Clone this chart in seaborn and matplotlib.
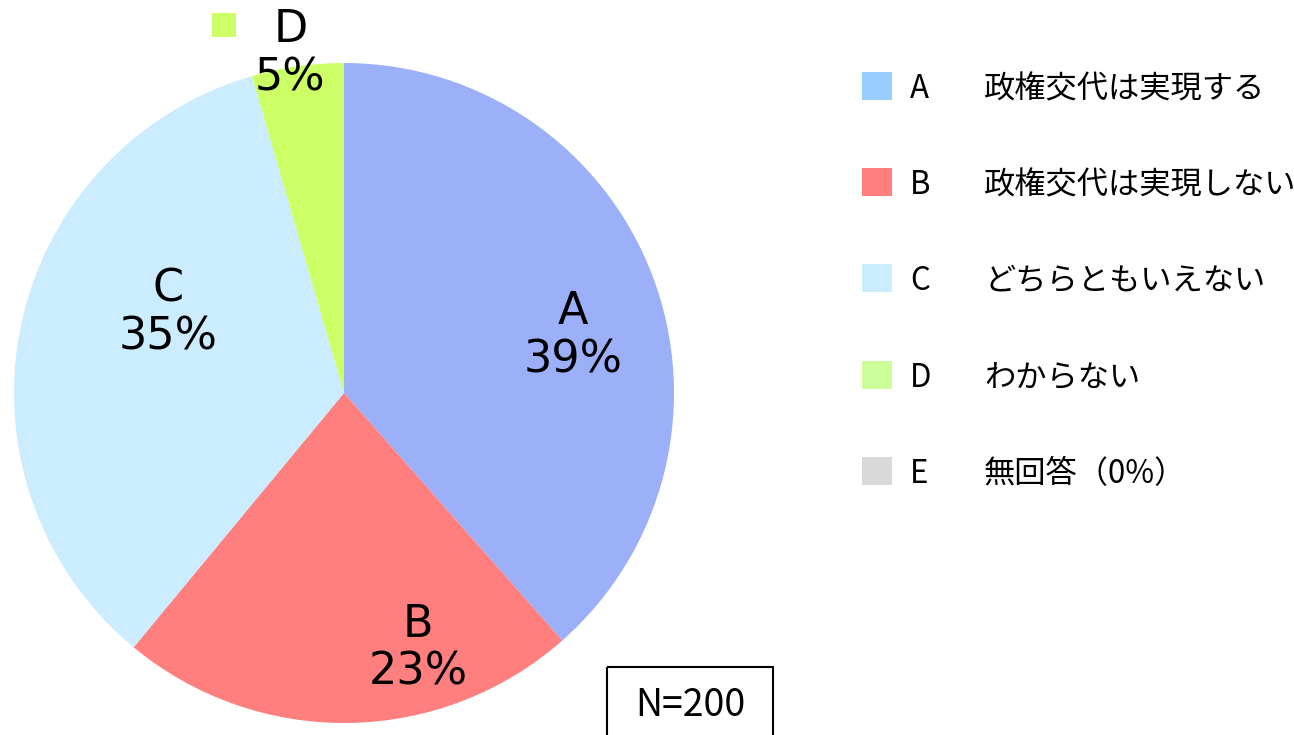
import matplotlib
matplotlib.use("Agg")
import numpy as np
import matplotlib.pyplot as plt
import seaborn as sns
from matplotlib.patches import Rectangle

# data
codes = ["A", "B", "C", "D", "E"]
answers = ["政権交代は実現する", "政権交代は実現しない", "どちらともいえない", "わからない", "無回答（0%）"]
counts = [77, 45, 69, 9, 0]
total_n = 200

pie_colors = ["#9CAFF9", "#FF7F7F", "#CCECFF", "#CCFF66", "#D9D9D9"]
legend_colors = ["#99CCFF", "#FF7F7F", "#CCECFF", "#CCFF99", "#D9D9D9"]

# label placement per slice (radius, angular nudge in degrees)
label_r = [0.715, 0.805, 0.586, 1.04]
label_turn = [-6.7, 15.3, -12.7, 0.9]

sns.set_theme(style="white")
plt.rcParams["font.family"] = ["DejaVu Sans", "Noto Sans CJK JP"]
plt.rcParams["text.color"] = "black"

W, H = 1294, 735
fig = plt.figure(figsize=(W / 100, H / 100), dpi=100)

# overlay in pixel units for legend, keys and the N box
lax = fig.add_axes([0, 0, 1, 1], label="overlay")
lax.set_xlim(0, W)
lax.set_ylim(H, 0)
lax.axis("off")

# 1. Pie
# ----------------------------------------------------
shown = [i for i, c in enumerate(counts) if c > 0]
ax = fig.add_axes([14 / W, 12 / H, 660 / W, 660 / H])
wedges, _ = ax.pie([counts[i] for i in shown],
                   colors=[pie_colors[i] for i in shown],
                   startangle=90, counterclock=False, radius=1,
                   wedgeprops=dict(linewidth=0))
ax.set_xlim(-1, 1)
ax.set_ylim(-1, 1)
ax.set_aspect("equal")
ax.axis("off")

for k, (i, w) in enumerate(zip(shown, wedges)):
    pct = int(np.floor(100 * counts[i] / total_n + 0.5))
    mid = np.deg2rad((w.theta1 + w.theta2) / 2 + label_turn[k])
    x, y = label_r[k] * np.cos(mid), label_r[k] * np.sin(mid)
    ax.text(x, y, f"{codes[i]}\n{pct}%", ha="center", va="center",
            fontsize=32, linespacing=1.15)
    if label_r[k] > 1:
        # small colour key in front of an outside label
        px, py = ax.transData.transform((x, y))
        py = H - py
        lax.add_patch(Rectangle((px - 66 - 12, py - 26 - 15), 24, 24,
                                color=pie_colors[i], lw=0))

# 2. Legend and N box
# ----------------------------------------------------
jp = ["Noto Sans CJK JP", "DejaVu Sans"]
for i, (c, a) in enumerate(zip(codes, answers)):
    yc = 86 + i * 96.2
    lax.add_patch(Rectangle((862, yc - 14), 30, 28, color=legend_colors[i], lw=0))
    lax.text(910, yc + 3, c, ha="left", va="center", fontsize=22.5, family=jp)
    lax.text(984, yc + 3, a, ha="left", va="center", fontsize=22.5, family=jp)

lax.add_patch(Rectangle((607, 667), 166, 100, fill=False, ec="black", lw=1.5, clip_on=False))
lax.text(690, 706, f"N={total_n}", ha="center", va="center", fontsize=27, family=jp)

fig.savefig("out.png", dpi=100)
